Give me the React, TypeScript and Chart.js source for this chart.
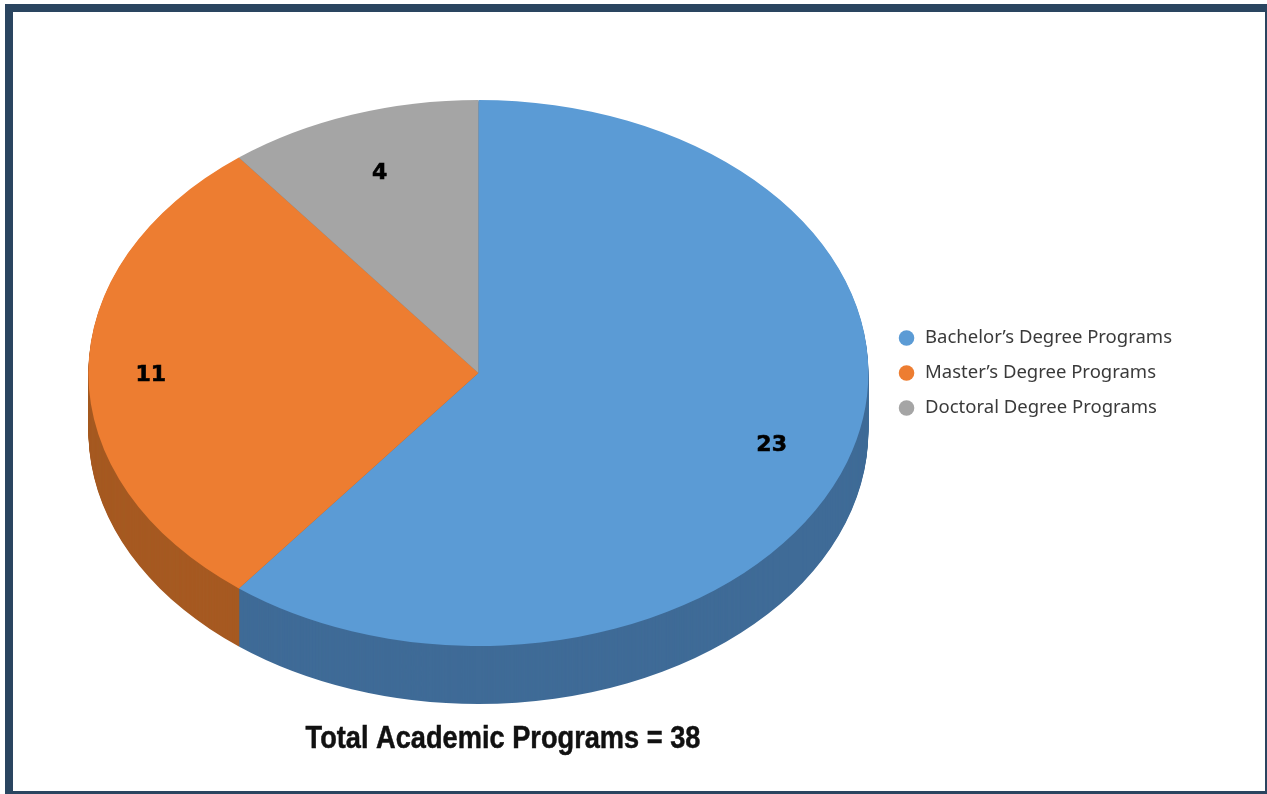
import React, { useEffect, useRef } from "react";
import { Chart, registerables } from "chart.js";

Chart.register(...registerables);

const categories = ["Bachelor’s Degree Programs", "Master’s Degree Programs", "Doctoral Degree Programs"];
const programCounts = [23, 11, 4];
const topColors = ["#5B9BD5", "#ED7D31", "#A5A5A5"];
const wallColors = ["#3F6B97", "#A65A22", "#747474"];
const labelFractions = [0.795, 0.84, 0.78];
const totalLabel = "Total Academic Programs = 38";

const X_STRETCH = 390 / 273;
const DEPTH = 58;

function stretch(ctx: CanvasRenderingContext2D, cx: number, cy: number) {
  ctx.translate(cx, cy);
  ctx.scale(X_STRETCH, 1);
  ctx.translate(-cx, -cy);
}

const tiltPlugin = {
  id: "tilt",
  beforeDatasetsDraw(chart: any) {
    const ctx: CanvasRenderingContext2D = chart.ctx;
    const arcs = chart.getDatasetMeta(0).data;
    const { x: cx, y: cy } = arcs[0];
    ctx.save();
    stretch(ctx, cx, cy);
    for (let d = DEPTH; d > 0; d--) {
      arcs.forEach((el: any, i: number) => {
        ctx.beginPath();
        ctx.moveTo(el.x, el.y + d);
        ctx.arc(el.x, el.y + d, el.outerRadius, el.startAngle, el.endAngle);
        ctx.closePath();
        ctx.fillStyle = wallColors[i];
        ctx.fill();
      });
    }
    ctx.restore();
    ctx.save();
    stretch(ctx, cx, cy);
  },
  afterDatasetsDraw(chart: any) {
    const ctx: CanvasRenderingContext2D = chart.ctx;
    ctx.restore();
    const arcs = chart.getDatasetMeta(0).data;
    ctx.save();
    ctx.fillStyle = "#000";
    ctx.strokeStyle = "#000";
    ctx.lineWidth = 0.6;
    ctx.textAlign = "center";
    ctx.textBaseline = "middle";
    ctx.font = 'bold 22px "DejaVu Sans"';
    arcs.forEach((el: any, i: number) => {
      const mid = (el.startAngle + el.endAngle) / 2;
      const r = el.outerRadius * labelFractions[i];
      const x = el.x + Math.cos(mid) * r * X_STRETCH;
      const y = el.y + Math.sin(mid) * r + 2;
      ctx.fillText(String(programCounts[i]), x, y);
      ctx.strokeText(String(programCounts[i]), x, y);
    });
    ctx.translate(503, 739);
    ctx.scale(0.85, 1);
    ctx.font = 'bold 32px "Liberation Sans"';
    ctx.fillStyle = "#111";
    ctx.strokeStyle = "#111";
    ctx.lineWidth = 0.5;
    ctx.fillText(totalLabel, 0, 0);
    ctx.strokeText(totalLabel, 0, 0);
    ctx.restore();
  },
};

export default function App() {
  const ref = useRef<HTMLCanvasElement>(null);
  useEffect(() => {
    const chart = new Chart(ref.current!, {
      type: "pie",
      data: {
        labels: categories,
        datasets: [{ data: programCounts, backgroundColor: topColors, borderWidth: 0, clip: false } as any],
      },
      options: {
        animation: false,
        responsive: false,
        maintainAspectRatio: false,
        layout: { padding: { left: 76, top: 100, bottom: 148, right: 85 } },
        plugins: {
          tooltip: { enabled: false },
          legend: {
            position: "right",
            labels: {
              usePointStyle: true,
              boxHeight: 11,
              padding: 16.5,
              color: "#3A3A3A",
              font: { family: '"Noto Sans"', size: 18.5 },
            },
          },
        },
      },
      plugins: [tiltPlugin],
    });
    return () => chart.destroy();
  }, []);
  return (
    <div style={{ position: "fixed", inset: 0, background: "#fff", overflow: "hidden" }}>
      <div
        style={{
          position: "absolute",
          left: 5,
          top: 4,
          width: 1262,
          height: 790,
          boxSizing: "border-box",
          borderStyle: "solid",
          borderColor: "#2A4560",
          borderWidth: "8px 2px 3px 8px",
        }}
      />
      <canvas ref={ref} width={1267} height={794} style={{ position: "absolute", left: 0, top: 0, display: "block" }} />
    </div>
  );
}
